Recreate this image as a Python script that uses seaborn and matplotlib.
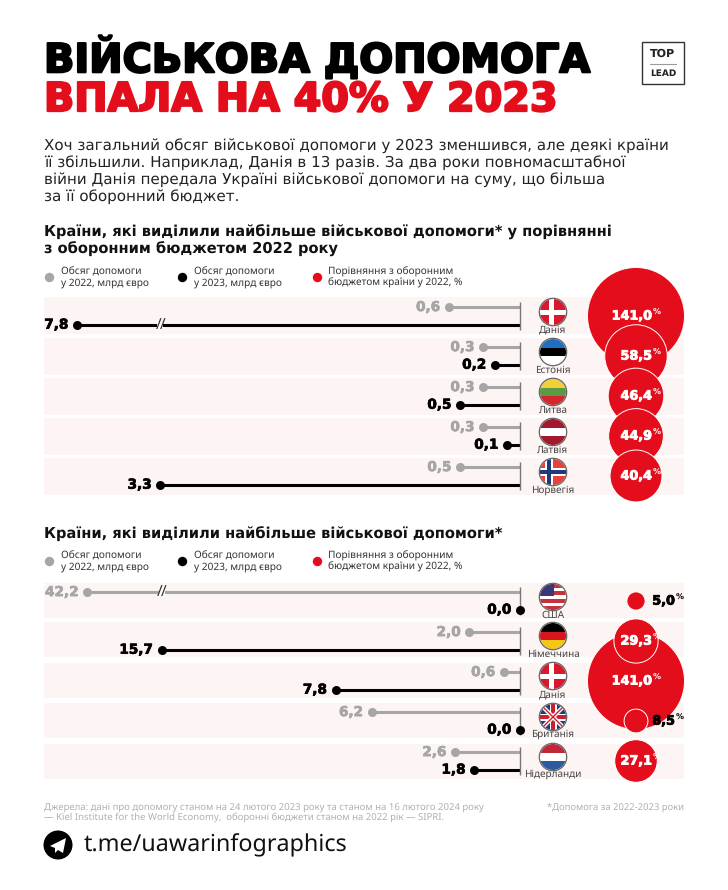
import matplotlib
matplotlib.use('Agg')
import matplotlib.pyplot as plt
import matplotlib.patheffects as pe
from matplotlib.patches import Circle, Rectangle, Polygon
import seaborn as sns
import numpy as np
import pandas as pd

# top panel
countries_top = ['Данія', 'Естонія', 'Литва', 'Латвія', 'Норвегія']
aid22_top = [0.6, 0.3, 0.3, 0.3, 0.5]
aid23_top = [7.8, 0.2, 0.5, 0.1, 3.3]
pct_top = [141.0, 58.5, 46.4, 44.9, 40.4]

# bottom panel
countries_bot = ['США', 'Німеччина', 'Данія', 'Британія', 'Нідерланди']
aid22_bot = [42.2, 2.0, 0.6, 6.2, 2.6]
aid23_bot = [0.0, 15.7, 7.8, 0.0, 1.8]
pct_bot = [5.0, 29.3, 141.0, 8.5, 27.1]

W, H = 728, 890
GRAY = '#a6a6a6'
RED = '#e30d1b'
BAND = '#fdf5f3'
MAIN = 'DejaVu Sans'
BODY = 'Noto Sans'

sns.set_theme(style='white')
plt.rcParams['font.family'] = [MAIN]
plt.rcParams['text.hinting'] = 'none'

fig = plt.figure(figsize=(W / 100, H / 100), dpi=100)
bg = fig.add_axes([0, 0, 1, 1])
bg.set_xlim(0, W)
bg.set_ylim(H, 0)
bg.axis('off')


def px_axes(l, t, r, b):
    ax = fig.add_axes([l / W, 1 - b / H, (r - l) / W, (b - t) / H])
    ax.patch.set_alpha(0)
    return ax


def thick(color, w):
    return [pe.withStroke(linewidth=w, foreground=color)]


# header
bg.text(44, 59, 'ВІЙСЬКОВА ДОПОМОГА', fontsize=28.7, fontweight='bold', color='black', va='center',
        path_effects=thick('black', 1.6))
bg.text(44, 100, 'ВПАЛА НА 40% У 2023', fontsize=28.6, fontweight='bold', color=RED, va='center',
        path_effects=thick(RED, 1.6))

bg.add_patch(Rectangle((642, 42), 42, 42, fill=False, ec='#333333', lw=1))
bg.text(663, 54, 'TOP', fontsize=8, fontweight='bold', ha='center', va='center', color='#222222')
bg.plot([650, 676], [64, 64], color='#999999', lw=0.8)
bg.text(663, 74, 'LEAD', fontsize=6.5, fontweight='bold', ha='center', va='center', color='#222222')

body = ['Хоч загальний обсяг військової допомоги у 2023 зменшився, але деякі країни',
        'її збільшили. Наприклад, Данія в 13 разів. За два роки повномасштабної',
        'війни Данія передала Україні військової допомоги на суму, що більша',
        'за її оборонний бюджет.']
for i, line in enumerate(body):
    bg.text(44, 146 + i * 16.7, line, fontsize=10.9, family=MAIN, color='#222222', va='center')

bg.text(44, 232, 'Країни, які виділили найбільше військової допомоги* у порівнянні',
        fontsize=10.5, fontweight='bold', va='center', color='#111111')
bg.text(44, 249, 'з оборонним бюджетом 2022 року', fontsize=10.5, fontweight='bold', va='center', color='#111111')
bg.text(44, 534, 'Країни, які виділили найбільше військової допомоги*',
        fontsize=10.5, fontweight='bold', va='center', color='#111111')


def legend(y):
    items = [(49, 61, GRAY, 'Обсяг допомоги', 'у 2022, млрд євро'),
             (182, 194, 'black', 'Обсяг допомоги', 'у 2023, млрд євро'),
             (317, 328, RED, 'Порівняння з оборонним', 'бюджетом країни у 2022, %')]
    for dx, tx, col, a, b in items:
        bg.scatter([dx], [y], s=46, color=col, linewidth=0)
        bg.text(tx, y - 5.5, a, fontsize=7.3, family=BODY, color='#333333', va='center')
        bg.text(tx, y + 5.5, b, fontsize=7.3, family=BODY, color='#333333', va='center')


legend(277)
legend(561)


def flag(cx, cy, name, r=13):
    clip = Circle((cx, cy), r, transform=bg.transData)
    l, t, d = cx - r, cy - r, 2 * r

    def rect(x, y, w, h, c):
        p = Rectangle((x, y), w, h, color=c, lw=0, zorder=3)
        bg.add_patch(p)
        p.set_clip_path(clip)

    def line(xs, ys, c, lw):
        p, = bg.plot(xs, ys, color=c, lw=lw, zorder=4, solid_capstyle='butt')
        p.set_clip_path(clip)

    stripes = {'Естонія': ['#1f6fc0', '#000000', '#ffffff'],
               'Литва': ['#f3cf3a', '#5a9a46', '#d3262e'],
               'Латвія': ['#a3182f', '#ffffff', '#a3182f'],
               'Німеччина': ['#000000', '#d8141c', '#f5c518'],
               'Нідерланди': ['#c0273a', '#ffffff', '#2a5aa0']}
    if name in stripes:
        for i, c in enumerate(stripes[name]):
            rect(l, t + i * d / 3, d, d / 3, c)
    elif name == 'Данія':
        rect(l, t, d, d, '#d8182c')
        rect(cx - 4.5, t, 5, d, 'white')
        rect(l, cy - 2.5, d, 5, 'white')
    elif name == 'Норвегія':
        rect(l, t, d, d, '#e8403a')
        rect(cx - 8, t, 8, d, 'white')
        rect(l, cy - 4, d, 8, 'white')
        rect(cx - 6, t, 4, d, '#1d3a7a')
        rect(l, cy - 2, d, 4, '#1d3a7a')
    elif name == 'США':
        for i in range(7):
            rect(l, t + i * d / 7, d, d / 7, '#c9303e' if i % 2 == 0 else 'white')
        rect(l, t, 14, 12, '#39397a')
    elif name == 'Британія':
        rect(l, t, d, d, '#1f3a80')
        line([l, l + d], [t, t + d], 'white', 3)
        line([l, l + d], [t + d, t], 'white', 3)
        line([l, l + d], [t, t + d], '#c8202f', 1)
        line([l, l + d], [t + d, t], '#c8202f', 1)
        rect(cx - 3.5, t, 7, d, 'white')
        rect(l, cy - 3.5, d, 7, 'white')
        rect(cx - 2, t, 4, d, '#c8202f')
        rect(l, cy - 2, d, 4, '#c8202f')
    bg.add_patch(Circle((cx, cy), r + 0.7, fill=False, ec='#666666', lw=0.9, zorder=5))


def panel(center0, band_tops, band_h, countries, aid22, aid23, pct, unit, brk, k,
          flag_ys, label_ys, broken_y):
    # bands behind the rows
    for t in band_tops:
        bg.add_patch(Rectangle((44, t), 640, band_h, color=BAND, lw=0, zorder=0))

    def fwd(x):
        x = np.abs(np.asarray(x, dtype=float))
        return np.minimum(x, brk) ** 0.95 + k * np.maximum(x - brk, 0)

    def inv(v):
        v = np.abs(np.asarray(v, dtype=float))
        top = brk ** 0.95
        return np.where(v <= top, v ** (1 / 0.95), brk + (v - top) / k)

    # values on the left, right edge is zero
    ax = px_axes(44, center0 - 20, 520, center0 + 180)
    ax.set_xscale('function', functions=(fwd, inv))
    rows = np.arange(len(countries))
    df = pd.DataFrame({'row': rows, 'aid22': aid22, 'aid23': aid23, 'pct': pct})
    df['y22'] = df['row'] - 0.22
    df['y23'] = df['row'] + 0.22

    ax.hlines(df['y22'], 0, df['aid22'], color=GRAY, lw=2.2)
    ax.hlines(df['y23'], 0, df['aid23'], color='black', lw=2.2)
    ax.vlines(np.zeros(len(df)), df['row'] - 0.36, df['row'] + 0.36, color='#777777', lw=1, clip_on=False)
    sns.scatterplot(data=df, x='aid22', y='y22', color=GRAY, s=42, linewidth=0, ax=ax, clip_on=False, legend=False, zorder=3)
    sns.scatterplot(data=df, x='aid23', y='y23', color='black', s=42, linewidth=0, ax=ax, clip_on=False, legend=False, zorder=3)
    ax.set_xlim(float(inv(476 / unit)), 0)
    ax.set_ylim(len(countries) - 0.5, -0.5)
    ax.axis('off')

    for _, r in df.iterrows():
        ax.annotate(f"{r['aid22']:.1f}".replace('.', ','), (r['aid22'], r['y22']), xytext=(-6.2, 0),
                    textcoords='offset points', ha='right', va='center', fontsize=9.8,
                    fontweight='bold', color=GRAY, annotation_clip=False, path_effects=thick(GRAY, 0.5))
        ax.annotate(f"{r['aid23']:.1f}".replace('.', ','), (r['aid23'], r['y23']), xytext=(-6.2, 0),
                    textcoords='offset points', ha='right', va='center', fontsize=9.8,
                    fontweight='bold', color='black', annotation_clip=False, path_effects=thick('black', 0.5))

    # axis break on the first row
    ax.scatter([brk], [broken_y], marker='s', s=24, color='white', linewidth=0, zorder=2)
    for shift in (-1.5, 1.5):
        ax.annotate('/', (brk, broken_y), xytext=(shift, 0), textcoords='offset points',
                    ha='center', va='center', fontsize=11, color='#333333', family=BODY)

    # bubbles, area follows the percentage
    bx = px_axes(588, center0 - 20, 684, center0 + 180)
    df['x'] = 0.5
    sns.scatterplot(data=df.sort_values('pct', ascending=False), x='x', y='row', size='pct',
                    sizes=(0, 4880), size_norm=(0, 141), color=RED, edgecolor='white', linewidth=0.7,
                    ax=bx, clip_on=False, legend=False, zorder=3)
    bx.set_xlim(0, 1)
    bx.set_ylim(len(countries) - 0.5, -0.5)
    bx.axis('off')
    for _, r in df.iterrows():
        small = r['pct'] < 10
        off = 28 if small else 11.5
        col = 'black' if small else 'white'
        bx.annotate(f"{r['pct']:.1f}".replace('.', ','), (0.5, r['row']), xytext=(off, 0),
                    textcoords='offset points', ha='right', va='center', fontsize=9.2,
                    fontweight='bold', color=col, annotation_clip=False, zorder=6,
                    path_effects=thick(col, 0.6))
        bx.annotate('%', (0.5, r['row']), xytext=(off + 0.3, 2.5), textcoords='offset points',
                    ha='left', va='center', fontsize=5.8, fontweight='bold', color=col,
                    annotation_clip=False, zorder=6)

    for name, fy, ly in zip(countries, flag_ys, label_ys):
        flag(553, fy, name)
        bg.text(553, ly, name, fontsize=7.2, family=BODY, color='#444444', ha='center', va='center', zorder=6)


panel(316, [297, 338, 378, 418, 458], 37, countries_top, aid22_top, aid23_top, pct_top,
      115.7, 3.3, 0.16, [312, 352, 392, 432, 472], [330, 370, 410, 450, 490], 0.22)
panel(601, [583, 622, 663, 703, 744], 35, countries_bot, aid22_bot, aid23_bot, pct_bot,
      26.2, 15.7, 0.107, [597, 636, 676, 717, 757], [615, 654, 695, 734, 774], -0.22)

# footer
bg.text(44, 807, 'Джерела: дані про допомогу станом на 24 лютого 2023 року та станом на 16 лютого 2024 року',
        fontsize=6.9, family=BODY, color='#b0b0b0', va='center')
bg.text(44, 817, '— Kiel Institute for the World Economy,  оборонні бюджети станом на 2022 рік — SIPRI.',
        fontsize=6.9, family=BODY, color='#b0b0b0', va='center')
bg.text(684, 807, '*Допомога за 2022-2023 роки', fontsize=6.8, family=BODY, color='#b0b0b0', va='center', ha='right')

bg.add_patch(Circle((58, 845), 14.5, color='black', lw=0))
bg.add_patch(Polygon([(50, 846), (66, 838), (63, 853), (58, 850), (55, 853), (55, 848)], color='white', lw=0))
bg.text(84, 845, 't.me/uawarinfographics', fontsize=16.8, family=BODY, color='#111111', va='center')

fig.savefig('out.png', dpi=100)
